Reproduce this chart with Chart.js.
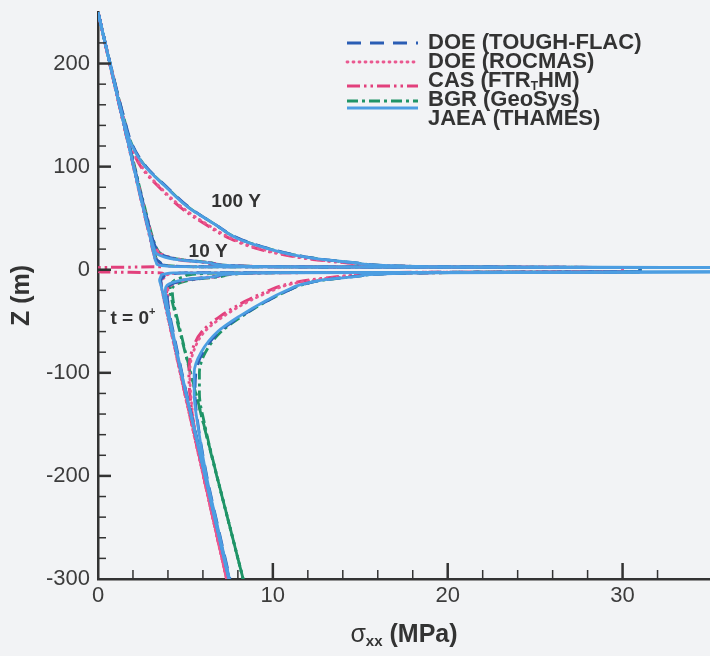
<!DOCTYPE html>
<html>
<head>
<meta charset="utf-8">
<script src="https://cdn.jsdelivr.net/npm/chart.js@4.4.1/dist/chart.umd.min.js"></script>
<style>
  html, body { margin: 0; padding: 0; background: #f2f3f5; }
  canvas { display: block; }
</style>
</head>
<body>
<canvas id="chart" width="710" height="656"></canvas>
<script>
// depth Z (m) shared by every profile, from the surface down
const depth = [250, 200, 150, 120, 100, 80, 60, 45, 30, 20, 15, 10, 6, 3, 2,
               -2, -3, -6, -10, -15, -20, -30, -45, -60, -80, -100, -120, -150, -200, -250, -300];

const seriesNames = ['DOE (TOUGH-FLAC)', 'DOE (ROCMAS)', 'CAS (FTR_HM)', 'BGR (GeoSys)', 'JAEA (THAMES)'];
const times = ['t = 0+', '10 Y', '100 Y'];

const xTickLabels = [0, 10, 20, 30];
const yTickLabels = [-300, -200, -100, 0, 100, 200];

// sigma_xx (MPa) along depth, one array per model and time
const toughT0   = [0, 0.68, 1.36, 1.78, 2.05, 2.32, 2.6, 2.8, 3.02, 3.15, 3.25, 3.35, 3.6, 5.0, 31,
                   31, 5.0, 3.8, 3.6, 3.62, 3.68, 3.82, 4.02, 4.23, 4.5, 4.77, 5.04, 5.45, 6.13, 6.81, 7.5];
const toughY10  = [0, 0.68, 1.37, 1.8, 2.08, 2.36, 2.65, 2.88, 3.12, 3.35, 3.6, 4.6, 6.6, 9.6, 31,
                   31, 9.4, 6.9, 5.0, 4.1, 3.95, 3.98, 4.12, 4.3, 4.55, 4.8, 5.06, 5.47, 6.15, 6.82, 7.5];
const toughY100 = [0, 0.7, 1.45, 2.0, 2.75, 3.95, 5.25, 6.6, 8.1, 9.9, 11.1, 12.9, 15.1, 19.2, 31,
                   31, 19.0, 15.0, 12.9, 11.6, 10.9, 9.7, 8.2, 6.95, 6.0, 5.6, 5.55, 5.72, 6.22, 6.87, 7.55];

const rocmasT0   = [0, 0.67, 1.34, 1.75, 2.02, 2.29, 2.56, 2.77, 2.98, 3.12, 3.2, 3.3, 3.5, 4.6, 30,
                    30, 4.8, 3.9, 3.65, 3.62, 3.66, 3.78, 3.97, 4.17, 4.43, 4.69, 4.95, 5.35, 6.02, 6.68, 7.35];
const rocmasY10  = [0, 0.67, 1.34, 1.76, 2.04, 2.33, 2.62, 2.86, 3.1, 3.35, 3.65, 4.7, 6.7, 9.8, 30,
                    30, 9.6, 7.0, 5.1, 4.2, 4.0, 4.0, 4.1, 4.25, 4.48, 4.72, 4.98, 5.37, 6.03, 6.69, 7.35];
const rocmasY100 = [0, 0.68, 1.4, 1.88, 2.5, 3.55, 4.85, 6.15, 7.7, 9.3, 10.6, 12.4, 14.7, 18.6, 30,
                    30, 18.4, 14.3, 12.3, 10.8, 10.0, 8.7, 7.2, 6.1, 5.45, 5.25, 5.3, 5.5, 6.05, 6.7, 7.35];

const casT0   = [0, 0.67, 1.35, 1.76, 2.03, 2.3, 2.57, 2.78, 2.99, 3.12, 3.2, 3.28, 3.4, 3.6, 0,
                 0, 3.7, 3.65, 3.6, 3.62, 3.68, 3.8, 3.99, 4.19, 4.45, 4.71, 4.97, 5.37, 6.04, 6.7, 7.38];
const casY10  = [0, 0.67, 1.35, 1.77, 2.05, 2.34, 2.63, 2.87, 3.1, 3.32, 3.55, 4.5, 6.4, 9.3, 30,
                 30, 9.2, 6.7, 4.9, 4.05, 3.92, 3.96, 4.08, 4.25, 4.48, 4.73, 4.99, 5.39, 6.05, 6.71, 7.38];
const casY100 = [0, 0.69, 1.42, 1.9, 2.45, 3.5, 4.75, 6.05, 7.6, 9.2, 10.5, 12.3, 14.6, 18.5, 30,
                 30, 18.2, 14.1, 12.1, 10.6, 9.8, 8.5, 7.0, 5.95, 5.35, 5.2, 5.25, 5.48, 6.04, 6.7, 7.38];

const bgrT0   = [0, 0.68, 1.37, 1.79, 2.06, 2.33, 2.61, 2.82, 3.03, 3.17, 3.26, 3.36, 3.6, 4.8, 31,
                 31, 7.5, 5.0, 4.4, 4.15, 4.12, 4.23, 4.45, 4.68, 4.98, 5.28, 5.59, 6.04, 6.79, 7.55, 8.3];
const bgrY10  = [0, 0.68, 1.38, 1.81, 2.1, 2.38, 2.68, 2.9, 3.15, 3.38, 3.65, 4.7, 6.7, 9.7, 31,
                 31, 9.8, 7.2, 5.3, 4.4, 4.25, 4.3, 4.5, 4.72, 5.0, 5.3, 5.6, 6.05, 6.8, 7.55, 8.3];
const bgrY100 = [0, 0.7, 1.44, 1.98, 2.72, 3.92, 5.22, 6.6, 8.05, 9.85, 11.05, 12.85, 15.05, 19.1, 31,
                 31, 19.0, 15.0, 12.9, 11.6, 10.9, 9.7, 8.25, 7.05, 6.15, 5.8, 5.8, 6.1, 6.8, 7.55, 8.3];

const jaeaT0   = [0, 0.68, 1.36, 1.77, 2.04, 2.31, 2.58, 2.79, 3.0, 3.13, 3.2, 3.26, 3.35, 4.4, 38,
                  38, 4.3, 3.6, 3.52, 3.6, 3.67, 3.81, 4.01, 4.22, 4.49, 4.76, 5.03, 5.44, 6.12, 6.8, 7.48];
const jaeaY10  = [0, 0.68, 1.36, 1.77, 2.04, 2.31, 2.6, 2.82, 3.05, 3.22, 3.4, 4.4, 6.5, 9.5, 38,
                  38, 9.5, 6.8, 4.8, 3.95, 3.85, 3.92, 4.08, 4.27, 4.52, 4.78, 5.04, 5.45, 6.13, 6.8, 7.49];
const jaeaY100 = [0, 0.68, 1.4, 1.95, 2.7, 3.9, 5.2, 6.6, 8.0, 9.8, 11.0, 12.8, 15.0, 19.0, 38,
                  38, 19.0, 15.0, 12.8, 11.5, 10.8, 9.6, 8.1, 6.85, 5.9, 5.5, 5.5, 5.7, 6.2, 6.85, 7.52];

const profiles = [
    [toughT0, toughY10, toughY100],
    [rocmasT0, rocmasY10, rocmasY100],
    [casT0, casY10, casY100],
    [bgrT0, bgrY10, bgrY100],
    [jaeaT0, jaeaY10, jaeaY100]
];

const lineStyles = [
    { color: '#2a5db4', dash: [14, 9], width: 2.8, cap: 'butt' },
    { color: '#ea5890', dash: [1, 5], width: 2.8, cap: 'round' },
    { color: '#e2407c', dash: [13, 4, 2.5, 4, 2.5, 4], width: 3, cap: 'butt' },
    { color: '#1f9467', dash: [11, 4, 3, 4], width: 2.8, cap: 'butt' },
    { color: '#4c9ee2', dash: [], width: 2.8, cap: 'butt' }
];

function toPoints(values) {
    return values.map((v, i) => ({ x: v, y: depth[i] }));
}

// JAEA first so it is drawn on top, like the reference
const drawOrder = [4, 0, 1, 2, 3];
const datasets = [];
drawOrder.forEach(m => {
    profiles[m].forEach((values, t) => {
        const s = lineStyles[m];
        datasets.push({
            label: seriesNames[m] + ' ' + times[t],
            data: toPoints(values),
            borderColor: s.color,
            borderDash: s.dash,
            borderWidth: s.width,
            borderCapStyle: s.cap,
            pointRadius: 0,
            cubicInterpolationMode: 'monotone',
            fill: false
        });
    });
});

const ink = '#333333';

function drawMixed(ctx, parts, x, y, align) {
    // parts: [text, font, dy]
    let total = 0;
    parts.forEach(p => { ctx.font = p[1]; total += ctx.measureText(p[0]).width; });
    let cx = align === 'center' ? x - total / 2 : x;
    ctx.textAlign = 'left';
    parts.forEach(p => {
        ctx.font = p[1];
        ctx.fillText(p[0], cx, y + p[2]);
        cx += ctx.measureText(p[0]).width;
    });
}

const overlay = {
    id: 'overlay',
    beforeDraw(chart) {
        const ctx = chart.ctx;
        ctx.save();
        ctx.fillStyle = '#f2f3f5';
        ctx.fillRect(0, 0, chart.width, chart.height);
        ctx.restore();
    },
    afterDraw(chart) {
        const { ctx, chartArea: a, scales: { x, y } } = chart;
        ctx.save();
        ctx.strokeStyle = ink;

        // inward tick marks
        x.ticks.forEach(t => {
            const v = t.value;
            if (v % 2 !== 0 || v === 0) return;
            const major = v % 10 === 0;
            const px = x.getPixelForValue(v);
            ctx.lineWidth = major ? 2.5 : 1.5;
            ctx.beginPath();
            ctx.moveTo(px, a.bottom);
            ctx.lineTo(px, a.bottom - (major ? 16 : 9));
            ctx.stroke();
        });
        y.ticks.forEach(t => {
            const v = t.value;
            if (v % 20 !== 0 || v === -300) return;
            const major = v % 100 === 0;
            const py = y.getPixelForValue(v);
            ctx.lineWidth = major ? 2.5 : 1.5;
            ctx.beginPath();
            ctx.moveTo(a.left, py);
            ctx.lineTo(a.left + (major ? 13 : 8), py);
            ctx.stroke();
        });

        ctx.fillStyle = ink;
        ctx.textBaseline = 'middle';

        // axis titles
        const cx = (a.left + a.right) / 2;
        drawMixed(ctx, [
            ['\u03c3', '25px "Liberation Sans"', 0],
            ['xx', 'bold 15px "Liberation Sans"', 7],
            [' (MPa)', 'bold 25px "Liberation Sans"', 0]
        ], cx, a.bottom + 56, 'center');

        ctx.save();
        ctx.translate(22, (a.top + a.bottom) / 2);
        ctx.rotate(-Math.PI / 2);
        ctx.font = 'bold 25px "Liberation Sans"';
        ctx.textAlign = 'center';
        ctx.fillText('Z (m)', 0, 0);
        ctx.restore();

        // time labels on the curves
        ctx.font = 'bold 19px "Liberation Sans"';
        ctx.textAlign = 'center';
        ctx.fillText(times[2], x.getPixelForValue(7.9), y.getPixelForValue(66));
        ctx.fillText(times[1], x.getPixelForValue(6.3), y.getPixelForValue(17.5));
        drawMixed(ctx, [
            ['t = 0', 'bold 19px "Liberation Sans"', 0],
            ['+', 'bold 11px "Liberation Sans"', -7]
        ], x.getPixelForValue(2.0), y.getPixelForValue(-48), 'center');

        // legend
        const lx = a.left + 249, ly = a.top + 31, row = 19;
        const sampleShift = [0, 0, 5, 1, -11];
        lineStyles.forEach((s, i) => {
            const yy = ly + i * row;
            ctx.save();
            ctx.strokeStyle = s.color;
            ctx.lineWidth = s.width;
            ctx.lineCap = s.cap;
            ctx.setLineDash(s.dash);
            ctx.beginPath();
            ctx.moveTo(lx, yy + sampleShift[i]);
            ctx.lineTo(lx + 71, yy + sampleShift[i]);
            ctx.stroke();
            ctx.restore();
            ctx.fillStyle = ink;
            if (i === 2) {
                drawMixed(ctx, [
                    ['CAS (FTR', 'bold 22px "Liberation Sans"', 0],
                    ['T', 'bold 12px "Liberation Sans"', 6],
                    ['HM)', 'bold 22px "Liberation Sans"', 0]
                ], lx + 81, yy, 'left');
            } else {
                ctx.font = 'bold 22px "Liberation Sans"';
                ctx.textAlign = 'left';
                ctx.fillText(seriesNames[i], lx + 81, yy);
            }
        });
        ctx.restore();
    }
};

const tickFont = { family: 'Liberation Sans', size: 22 };

new Chart(document.getElementById('chart').getContext('2d'), {
    type: 'line',
    data: { datasets: datasets },
    options: {
        responsive: false,
        animation: false,
        devicePixelRatio: 1,
        indexAxis: 'y',
        layout: { padding: { top: 12, left: 0, right: 0, bottom: 0 } },
        plugins: { legend: { display: false }, tooltip: { enabled: false } },
        scales: {
            x: {
                type: 'linear',
                min: 0,
                max: 35,
                afterFit(scale) {
                    scale.height = 77;
                    scale.paddingLeft = 0;
                    scale.paddingRight = 0;
                },
                grid: { drawOnChartArea: false, drawTicks: false },
                border: { display: true, color: ink, width: 2.5 },
                ticks: {
                    stepSize: 2,
                    autoSkip: false,
                    maxRotation: 0,
                    padding: 4,
                    color: '#3c3c3c',
                    font: tickFont,
                    callback: v => xTickLabels.includes(v) ? String(v) : ''
                }
            },
            y: {
                type: 'linear',
                min: -300,
                max: 250,
                afterFit(scale) {
                    scale.width = 98;
                    scale.paddingTop = 0;
                    scale.paddingBottom = 0;
                },
                grid: { drawOnChartArea: false, drawTicks: false },
                border: { display: true, color: ink, width: 2.5 },
                ticks: {
                    stepSize: 20,
                    autoSkip: false,
                    padding: 8,
                    color: '#3c3c3c',
                    font: tickFont,
                    callback: v => yTickLabels.includes(v) ? String(v) : ''
                }
            }
        }
    },
    plugins: [overlay]
});
</script>
</body>
</html>
